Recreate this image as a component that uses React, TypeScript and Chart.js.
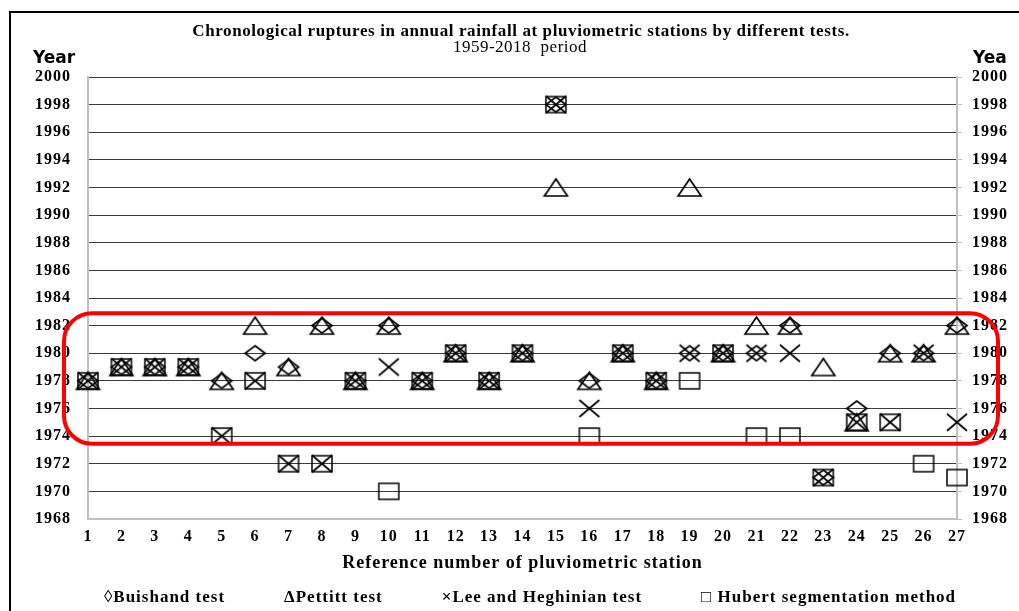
import React, { useEffect, useRef } from 'react';
import { Chart, registerables } from 'chart.js';

Chart.register(...registerables);

const stations = [1, 2, 3, 4, 5, 6, 7, 8, 9, 10, 11, 12, 13, 14, 15, 16, 17, 18, 19, 20, 21, 22, 23, 24, 25, 26, 27];
const buishand = [1978, 1979, 1979, 1979, 1978, 1980, 1979, 1982, 1978, 1982, 1978, 1980, 1978, 1980, 1998, 1978, 1980, 1978, 1980, 1980, 1980, 1982, 1971, 1976, 1980, 1980, 1982];
const pettitt = [1978, 1979, 1979, 1979, 1978, 1982, 1979, 1982, 1978, 1982, 1978, 1980, 1978, 1980, 1992, 1978, 1980, 1978, 1992, 1980, 1982, 1982, 1979, 1975, 1980, 1980, 1982];
const leeHeghinian = [1978, 1979, 1979, 1979, 1974, 1978, 1972, 1972, 1978, 1979, 1978, 1980, 1978, 1980, 1998, 1976, 1980, 1978, 1980, 1980, 1980, 1980, 1971, 1975, 1975, 1980, 1975];
const hubert = [1978, 1979, 1979, 1979, 1974, 1978, 1972, 1972, 1978, 1970, 1978, 1980, 1978, 1980, 1998, 1974, 1980, 1978, 1978, 1980, 1974, 1974, 1971, 1975, 1975, 1972, 1971];

const yearMin = 1968;
const yearMax = 2000;
const yearStep = 2;

const titleText = 'Chronological ruptures in annual rainfall at pluviometric stations by different tests.';
const subtitleText = '1959-2018  period';
const xTitle = 'Reference number of pluviometric station';
const legendItems = [
  { sym: '\u25CA', text: 'Buishand test' },
  { sym: '\u0394', text: 'Pettitt test' },
  { sym: '\u00D7', text: 'Lee and Heghinian test' },
  { sym: '\u25A1 ', text: 'Hubert segmentation method' },
];

const SERIF = "'Liberation Serif', 'Times New Roman', serif";

function makeMarker(kind: string, w: number, h: number, lw = 1.7): HTMLCanvasElement {
  const c = document.createElement('canvas');
  const pad = 2;
  c.width = w + pad * 2;
  c.height = h + pad * 2;
  const g = c.getContext('2d')!;
  g.strokeStyle = '#000';
  g.lineWidth = lw;
  g.translate(pad, pad);
  g.beginPath();
  if (kind === 'diamond') {
    g.moveTo(w / 2, 0);
    g.lineTo(w, h / 2);
    g.lineTo(w / 2, h);
    g.lineTo(0, h / 2);
    g.closePath();
  } else if (kind === 'triangle') {
    g.moveTo(w / 2, 0);
    g.lineTo(w, h);
    g.lineTo(0, h);
    g.closePath();
  } else if (kind === 'cross') {
    g.moveTo(0, 0);
    g.lineTo(w, h);
    g.moveTo(w, 0);
    g.lineTo(0, h);
  } else {
    g.rect(0, 0, w, h);
  }
  g.stroke();
  return c;
}

const decorPlugin = {
  id: 'decor',
  beforeDraw(chart: any) {
    (chart.ctx as any).letterSpacing = '1px';
  },
  afterDraw(chart: any) {
    const ctx = chart.ctx as CanvasRenderingContext2D;
    const W = chart.width;
    const H = chart.height;
    const ca = chart.chartArea;
    const y = chart.scales.y;
    ctx.save();
    // outer frame
    ctx.strokeStyle = '#000';
    ctx.lineWidth = 2;
    ctx.beginPath();
    ctx.moveTo(10, H);
    ctx.lineTo(10, 12);
    ctx.lineTo(W, 12);
    ctx.stroke();
    // titles
    ctx.fillStyle = '#000';
    ctx.textAlign = 'center';
    ctx.textBaseline = 'middle';
    (ctx as any).letterSpacing = '0.6px';
    ctx.font = `bold 17px ${SERIF}`;
    ctx.fillText(titleText, 521, 32);
    (ctx as any).letterSpacing = '0.5px';
    ctx.font = `17px ${SERIF}`;
    ctx.fillText(subtitleText, 520, 48);
    // axis titles "Year"
    (ctx as any).letterSpacing = '0px';
    ctx.font = "bold 17px 'DejaVu Sans', sans-serif";
    ctx.textAlign = 'left';
    ctx.fillText('Year', 33, 59);
    ctx.fillText('Yea', 973, 59);
    // legend
    (ctx as any).letterSpacing = '1px';
    ctx.font = `bold 17px ${SERIF}`;
    const labels = legendItems.map((it) => it.sym + it.text);
    const widths = labels.map((t) => ctx.measureText(t).width);
    const gap = 59;
    const total = widths.reduce((a, b) => a + b, 0) + gap * (labels.length - 1);
    let lx = 530 - total / 2;
    labels.forEach((t, i) => {
      ctx.fillText(t, lx, 598);
      lx += widths[i] + gap;
    });
    // red highlight
    const top = y.getPixelForValue(1982.9);
    const bottom = y.getPixelForValue(1973.45);
    const left = ca.left - 24;
    const right = ca.right + 41;
    const r = 28;
    ctx.strokeStyle = '#ff0000';
    ctx.lineWidth = 4;
    ctx.beginPath();
    ctx.moveTo(left + r, top);
    ctx.lineTo(right - r, top);
    ctx.arcTo(right, top, right, top + r, r);
    ctx.lineTo(right, bottom - r);
    ctx.arcTo(right, bottom, right - r, bottom, r);
    ctx.lineTo(left + r, bottom);
    ctx.arcTo(left, bottom, left, bottom - r, r);
    ctx.lineTo(left, top + r);
    ctx.arcTo(left, top, left + r, top, r);
    ctx.closePath();
    ctx.stroke();
    ctx.restore();
  },
};

export default function App() {
  const ref = useRef<HTMLCanvasElement | null>(null);
  useEffect(() => {
    if (!ref.current) return;
    const diamond = makeMarker('diamond', 20, 15);
    const triangle = makeMarker('triangle', 23, 17);
    const cross = makeMarker('cross', 20, 17);
    const square = makeMarker('square', 20, 16, 1.5);
    const toPts = (arr: number[]) => stations.map((s, i) => ({ x: s, y: arr[i] }));
    const tickFont = { family: SERIF, weight: 'bold' as const, size: 16 };
    const chart = new Chart(ref.current, {
      type: 'scatter',
      data: {
        datasets: [
          { label: 'Buishand test', data: toPts(buishand), pointStyle: diamond as any, pointRadius: 10, showLine: false, clip: false },
          { label: 'Pettitt test', data: toPts(pettitt), pointStyle: triangle as any, pointRadius: 10, showLine: false, clip: false },
          { label: 'Lee and Heghinian test', data: toPts(leeHeghinian), pointStyle: cross as any, pointRadius: 10, showLine: false, clip: false },
          { label: 'Hubert segmentation method', data: toPts(hubert), pointStyle: square as any, pointRadius: 10, showLine: false, clip: false },
        ],
      },
      options: {
        responsive: false,
        animation: false,
        events: [],
        layout: { padding: { top: 77, bottom: 37, left: 0, right: 0 } },
        plugins: {
          legend: { display: false },
          title: { display: false },
          tooltip: { enabled: false },
        },
        scales: {
          x: {
            type: 'linear',
            position: 'bottom',
            min: stations[0],
            max: stations[stations.length - 1],
            afterBuildTicks: (s: any) => {
              s.ticks = stations.map((v) => ({ value: v }));
            },
            ticks: {
              autoSkip: false,
              maxRotation: 0,
              padding: 8,
              color: '#000',
              font: tickFont,
              callback: (v: any) => String(v),
            },
            grid: { display: false, drawTicks: false },
            border: { color: '#c0c0c0', width: 2 },
            title: {
              display: true,
              text: xTitle,
              color: '#000',
              font: { family: SERIF, weight: 'bold', size: 18 },
              padding: { top: 0, bottom: 0 },
            },
            afterFit: (s: any) => {
              s.height = 55;
            },
          },
          y: {
            position: 'left',
            min: yearMin,
            max: yearMax,
            ticks: {
              stepSize: yearStep,
              padding: 17,
              color: '#000',
              font: tickFont,
              callback: (v: any) => String(v),
            },
            grid: {
              color: (c: any) => (c.tick && c.tick.value === yearMin ? 'rgba(0,0,0,0)' : '#3a3a3a'),
              lineWidth: 1,
              drawTicks: false,
            },
            border: { color: '#c0c0c0', width: 2 },
            afterFit: (s: any) => {
              s.width = 88;
            },
          },
          y2: {
            position: 'right',
            min: yearMin,
            max: yearMax,
            ticks: {
              stepSize: yearStep,
              padding: 10,
              color: '#000',
              font: tickFont,
              callback: (v: any) => String(v),
            },
            grid: { drawOnChartArea: false, drawTicks: true, tickLength: 5, color: '#c0c0c0' },
            border: { color: '#c0c0c0', width: 2 },
            afterFit: (s: any) => {
              s.width = 62;
            },
          },
        },
      } as any,
      plugins: [decorPlugin],
    });
    return () => chart.destroy();
  }, []);
  return (
    <div style={{ position: 'absolute', left: 0, top: 0, width: 1019, height: 611, background: '#fff' }}>
      <canvas ref={ref} width={1019} height={611} style={{ display: 'block' }} />
    </div>
  );
}
